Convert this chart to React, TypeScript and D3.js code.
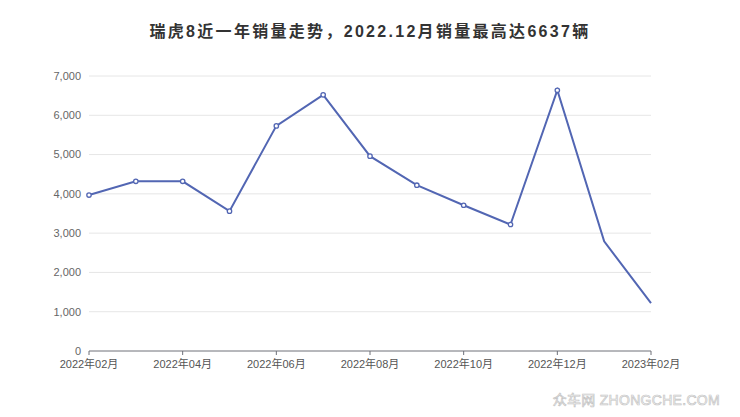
import React from "react";
import * as d3 from "d3";

const months = [
  "2022-02", "2022-03", "2022-04", "2022-05", "2022-06", "2022-07", "2022-08",
  "2022-09", "2022-10", "2022-11", "2022-12", "2023-01", "2023-02",
];
const sales = [3970, 4320, 4320, 3560, 5730, 6520, 4960, 4220, 3710, 3220, 6637, 2790, 1220];
const yTicks = [0, 1000, 2000, 3000, 4000, 5000, 6000, 7000];
const xTickMonths = ["2022-02", "2022-04", "2022-06", "2022-08", "2022-10", "2022-12", "2023-02"];
const title = "瑞虎8近一年销量走势，2022.12月销量最高达6637辆";

const W = 740;
const H = 417;
const M = { left: 89, right: 89, top: 76, bottom: 66 };

const fmtLabel = (m: string) => {
  const [y, mo] = m.split("-");
  return `${y}年${mo}月`;
};

export default function App() {
  const x = d3.scalePoint<string>().domain(months).range([M.left, W - M.right]);
  const y = d3.scaleLinear().domain([0, 7000]).range([H - M.bottom, M.top]);
  const line = d3
    .line<number>()
    .x((_, i) => x(months[i]) as number)
    .y((d) => y(d));
  const fmt = d3.format(",");
  const font = "'Helvetica Neue', Helvetica, Arial, 'Liberation Sans', 'Noto Sans CJK SC', sans-serif";
  const lineColor = "#5266b3";

  return (
    <svg
      width={W}
      height={H}
      style={{ position: "absolute", left: 0, top: 0, background: "#fff" }}
      fontFamily={font}
    >
      <text
        x={W / 2}
        y={37}
        textAnchor="middle"
        fontSize={16}
        fontWeight="bold"
        fill="#333"
        letterSpacing={2.3}
      >
        {title}
      </text>
      {yTicks.map((t) => (
        <g key={t}>
          {t > 0 && (
            <line x1={M.left} x2={W - M.right} y1={y(t)} y2={y(t)} stroke="#e6e6e6" strokeWidth={1} />
          )}
          <text x={M.left - 8} y={y(t)} dy="0.35em" textAnchor="end" fontSize={11} fill="#666">
            {fmt(t)}
          </text>
        </g>
      ))}
      <line
        x1={M.left}
        x2={W - M.right}
        y1={y(0)}
        y2={y(0)}
        stroke="#6e7079"
        strokeWidth={1}
      />
      {xTickMonths.map((m) => (
        <g key={m}>
          <line x1={x(m)} x2={x(m)} y1={y(0)} y2={y(0) + 4} stroke="#6e7079" />
          <text x={x(m)} y={y(0) + 17} textAnchor="middle" fontSize={11} fill="#555">
            {fmtLabel(m)}
          </text>
        </g>
      ))}
      <path d={line(sales) || ""} fill="none" stroke={lineColor} strokeWidth={2} />
      {sales.map((v, i) =>
        i < 11 ? (
          <circle
            key={i}
            cx={x(months[i])}
            cy={y(v)}
            r={2.2}
            fill="#fff"
            stroke={lineColor}
            strokeWidth={1.3}
          />
        ) : null
      )}
      <text
        x={720}
        y={405}
        textAnchor="end"
        fontSize={14}
        fill="#fff"
        stroke="#c4c4c4"
        strokeWidth={0.7}
        letterSpacing={0.3}
      >
        众车网 ZHONGCHE.COM
      </text>
    </svg>
  );
}
